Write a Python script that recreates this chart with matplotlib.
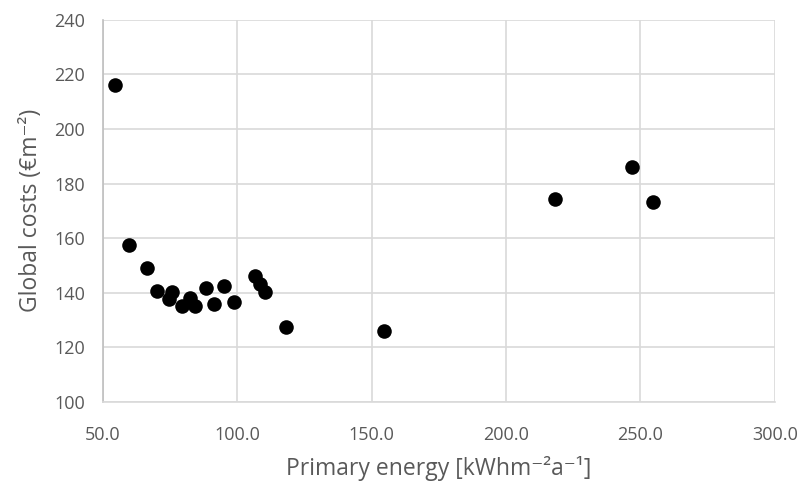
import matplotlib
matplotlib.use("Agg")
import matplotlib.pyplot as plt

primary_energy = [54.4, 59.7, 66.5, 70.0, 74.4, 75.6, 79.4, 82.5, 84.4, 88.4,
                  91.5, 95.0, 98.7, 106.5, 108.5, 110.3, 118.2, 154.6,
                  218.1, 246.9, 254.7]
global_costs = [216.0, 157.5, 149.0, 140.8, 137.7, 140.4, 135.0, 138.0, 135.3, 141.9,
                135.8, 142.6, 136.7, 146.2, 143.1, 140.2, 127.3, 126.0,
                174.4, 186.1, 173.3]

x_ticks = [50, 100, 150, 200, 250, 300]
y_ticks = [100, 120, 140, 160, 180, 200, 220, 240]

plt.rcParams['font.family'] = ['Open Sans', 'DejaVu Sans']

fig = plt.figure(figsize=(7.98, 4.83), dpi=100)
ax = fig.add_axes([0.129, 0.168, 0.842, 0.791])

ax.scatter(primary_energy, global_costs, s=110, color='black', zorder=3, linewidths=0)

ax.set_xlim(50, 300)
ax.set_ylim(100, 240)
ax.set_xticks(x_ticks)
ax.set_xticklabels([f"{v:.1f}" for v in x_ticks])
ax.set_yticks(y_ticks)
ax.set_yticklabels([str(v) for v in y_ticks])

ax.grid(True, color='#d9d9d9', linewidth=1.2, zorder=0)
for s in ax.spines.values():
    s.set_visible(False)
ax.spines['left'].set_visible(True)
ax.spines['left'].set_color('#bfbfbf')
ax.spines['left'].set_linewidth(1.2)
ax.spines['bottom'].set_visible(True)
ax.spines['bottom'].set_color('#d9d9d9')
ax.spines['bottom'].set_linewidth(1.2)

ax.tick_params(axis='both', length=0, labelsize=13, colors='#595959')
ax.tick_params(axis='x', pad=17.5)
ax.tick_params(axis='y', pad=13)
ax.set_xlabel('Primary energy [kWhm⁻²a⁻¹]', fontsize=16.5, color='#595959', labelpad=8.5)
ax.set_ylabel('Global costs (€m⁻²)', fontsize=16.5, color='#595959', labelpad=8)

fig.savefig('out.png', dpi=100)
